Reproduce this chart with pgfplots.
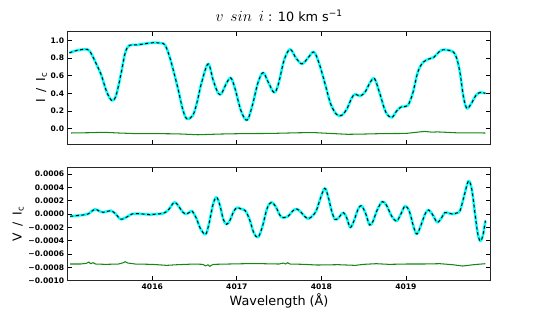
\documentclass[border=0pt]{standalone}
\usepackage{graphicx}
\usepackage{fontspec}
\setmainfont{DejaVu Sans}
\usepackage{pgfplots}
\usepackage{pgfplotstable}
\pgfplotsset{compat=1.18}
\definecolor{mplgreen}{RGB}{20,135,20}
\definecolor{mplcyan}{RGB}{0,255,255}

\pgfplotstableread{
w I
4015.02 0.86
4015.10 0.885
4015.20 0.90
4015.26 0.88
4015.35 0.71
4015.40 0.60
4015.46 0.42
4015.52 0.32
4015.57 0.37
4015.63 0.62
4015.68 0.86
4015.73 0.945
4015.82 0.95
4015.92 0.965
4016.01 0.975
4016.10 0.97
4016.15 0.95
4016.21 0.80
4016.30 0.47
4016.36 0.22
4016.41 0.11
4016.48 0.15
4016.53 0.30
4016.58 0.51
4016.66 0.735
4016.72 0.55
4016.78 0.40
4016.82 0.40
4016.88 0.52
4016.93 0.575
4016.98 0.45
4017.05 0.20
4017.12 0.095
4017.18 0.25
4017.25 0.52
4017.31 0.635
4017.37 0.53
4017.44 0.41
4017.49 0.50
4017.56 0.78
4017.63 0.90
4017.70 0.80
4017.77 0.735
4017.84 0.80
4017.91 0.87
4017.97 0.75
4018.04 0.52
4018.11 0.28
4018.18 0.16
4018.24 0.15
4018.30 0.22
4018.36 0.35
4018.40 0.39
4018.46 0.37
4018.52 0.42
4018.58 0.53
4018.63 0.565
4018.69 0.40
4018.76 0.19
4018.83 0.125
4018.89 0.20
4018.95 0.25
4019.02 0.26
4019.08 0.40
4019.14 0.64
4019.20 0.75
4019.27 0.79
4019.33 0.81
4019.39 0.87
4019.44 0.895
4019.50 0.89
4019.56 0.87
4019.60 0.80
4019.64 0.63
4019.68 0.36
4019.72 0.23
4019.77 0.28
4019.83 0.38
4019.88 0.41
4019.94 0.40
}\Itab

\pgfplotstableread{
w g
4015.04 -0.050
4015.25 -0.047
4015.43 -0.042
4015.60 -0.050
4015.80 -0.057
4016.05 -0.057
4016.30 -0.060
4016.54 -0.070
4016.80 -0.062
4017.08 -0.057
4017.40 -0.055
4017.70 -0.048
4017.90 -0.045
4018.10 -0.055
4018.31 -0.065
4018.50 -0.062
4018.72 -0.057
4019.00 -0.055
4019.22 -0.032
4019.30 -0.040
4019.38 -0.038
4019.60 -0.048
4019.94 -0.050
}\Igtab

\pgfplotstableread{
w V
4015.03 -0.35e-4
4015.10 -0.25e-4
4015.18 -0.15e-4
4015.24 0.0
4015.32 0.70e-4
4015.37 0.45e-4
4015.42 0.25e-4
4015.47 0.40e-4
4015.51 0.50e-4
4015.56 0.10e-4
4015.62 -0.75e-4
4015.66 -0.70e-4
4015.70 -0.45e-4
4015.76 0.0
4015.84 0.05e-4
4015.92 -0.05e-4
4015.98 -0.10e-4
4016.05 0.0
4016.13 0.10e-4
4016.19 0.6e-4
4016.26 1.75e-4
4016.31 1.2e-4
4016.36 0.3e-4
4016.40 0.0
4016.44 0.25e-4
4016.47 0.45e-4
4016.52 -0.6e-4
4016.57 -2.2e-4
4016.63 -3.05e-4
4016.67 -1.5e-4
4016.72 1.5e-4
4016.76 2.5e-4
4016.80 1.3e-4
4016.84 -0.8e-4
4016.88 -1.55e-4
4016.92 -0.9e-4
4016.96 0.3e-4
4017.00 0.95e-4
4017.05 0.75e-4
4017.10 0.50e-4
4017.15 -0.8e-4
4017.20 -2.8e-4
4017.25 -3.5e-4
4017.30 -2.0e-4
4017.36 0.9e-4
4017.41 1.75e-4
4017.46 1.1e-4
4017.51 -0.2e-4
4017.55 -0.55e-4
4017.61 -0.3e-4
4017.66 0.45e-4
4017.71 0.75e-4
4017.76 0.25e-4
4017.81 -0.45e-4
4017.85 -0.7e-4
4017.90 -0.2e-4
4017.94 0.5e-4
4017.99 2.4e-4
4018.04 3.85e-4
4018.08 2.6e-4
4018.12 0.5e-4
4018.16 -0.8e-4
4018.20 -0.6e-4
4018.26 0.2e-4
4018.30 -0.6e-4
4018.34 -2.0e-4
4018.38 -1.2e-4
4018.43 0.6e-4
4018.47 1.25e-4
4018.52 0.2e-4
4018.57 -1.65e-4
4018.61 -1.1e-4
4018.66 0.6e-4
4018.72 1.85e-4
4018.77 1.3e-4
4018.83 -0.3e-4
4018.89 -1.05e-4
4018.94 0.0
4018.99 1.2e-4
4019.04 0.4e-4
4019.09 -1.9e-4
4019.13 -3.0e-4
4019.18 -1.6e-4
4019.23 0.1e-4
4019.27 0.6e-4
4019.32 -0.2e-4
4019.37 -1.25e-4
4019.42 -0.6e-4
4019.46 0.2e-4
4019.51 0.1e-4
4019.55 0.0
4019.60 0.15e-4
4019.64 0.5e-4
4019.69 2.8e-4
4019.74 4.95e-4
4019.78 3.6e-4
4019.82 -0.3e-4
4019.85 -3.0e-4
4019.88 -4.05e-4
4019.91 -3.2e-4
4019.94 -1.0e-4
}\Vtab

\pgfplotstableread{
w g
4015.03 -7.50e-4
4015.15 -7.50e-4
4015.22 -7.40e-4
4015.25 -7.20e-4
4015.27 -7.45e-4
4015.30 -7.30e-4
4015.33 -7.50e-4
4015.45 -7.55e-4
4015.60 -7.50e-4
4015.66 -7.30e-4
4015.68 -7.15e-4
4015.71 -7.35e-4
4015.80 -7.50e-4
4016.00 -7.55e-4
4016.17 -7.70e-4
4016.30 -7.60e-4
4016.50 -7.50e-4
4016.60 -7.55e-4
4016.63 -7.80e-4
4016.66 -7.60e-4
4016.68 -7.85e-4
4016.72 -7.55e-4
4016.90 -7.50e-4
4017.10 -7.45e-4
4017.30 -7.45e-4
4017.50 -7.50e-4
4017.55 -7.35e-4
4017.58 -7.50e-4
4017.60 -7.30e-4
4017.63 -7.50e-4
4017.80 -7.55e-4
4017.95 -7.65e-4
4018.20 -7.60e-4
4018.40 -7.70e-4
4018.50 -7.55e-4
4018.65 -7.45e-4
4018.80 -7.55e-4
4019.00 -7.50e-4
4019.20 -7.50e-4
4019.40 -7.45e-4
4019.55 -7.60e-4
4019.67 -7.80e-4
4019.80 -7.60e-4
4019.94 -7.45e-4
}\Vgtab

\pgfplotsset{
  panel/.style={
    scale only axis,
    width=422.8pt,
    xmin=4015, xmax=4020,
    xtick={4016,4017,4018,4019},
    axis line style={black!85, line width=0.9pt},
    tick style={black, line width=0.8pt},
    major tick length=4.3pt,
    tick align=inside,
    ticklabel style={font=\fontsize{7.6}{8}\selectfont\bfseries},
    every axis y label/.style={at={(axis description cs:0,0.5)}, rotate=90, anchor=base, font=\fontsize{12.3}{14}\selectfont},
    every axis x label/.style={at={(axis description cs:0.5,0)}, anchor=base, yshift=-25pt, font=\fontsize{12.8}{14}\selectfont},
    scaled ticks=false,
  },
  cyanline/.style={mplcyan, line width=2.6pt, smooth, tension=0.55, line join=round},
  dashline/.style={black, line width=0.95pt, dash pattern=on 3pt off 2.6pt, smooth, tension=0.55},
  greenline/.style={mplgreen, line width=1.05pt, line join=round},
}

\begin{document}
\begin{tikzpicture}
\path[use as bounding box] (0,0) rectangle (545pt,-312pt);

\begin{axis}[panel,
  at={(67.7pt,-31.7pt)}, anchor=north west,
  height=112.3pt,
  ymin=-0.175, ymax=1.1,
  ytick={0,0.2,0.4,0.6,0.8,1.0},
  yticklabels={0.0,0.2,0.4,0.6,0.8,1.0},
  xticklabels={},
  ylabel={I\hspace{0.55em}/\hspace{0.55em}I$_{\mathrm{c}}$},
  ylabel style={at={(axis description cs:-0.0535,0.5)}},
  title={\scalebox{1.3}{$v\;\, sin\;\, i$} : 10 km s\textsuperscript{−1}},
  title style={at={(axis description cs:0.5,1)}, anchor=base, yshift=4.5pt, font=\fontsize{12.8}{14}\selectfont},
]
\addplot[greenline] table[x=w,y=g] {\Igtab};
\addplot[cyanline] table[x=w,y=I] {\Itab};
\addplot[dashline] table[x=w,y=I] {\Itab};
\end{axis}

\begin{axis}[panel,
  at={(67.7pt,-167.3pt)}, anchor=north west,
  height=113.4pt,
  ymin=-0.001, ymax=0.0007,
  ytick={-0.001,-0.0008,-0.0006,-0.0004,-0.0002,0,0.0002,0.0004,0.0006},
  yticklabels={−0.0010,−0.0008,−0.0006,−0.0004,−0.0002,0.0000,0.0002,0.0004,0.0006},
  xticklabels={4016,4017,4018,4019},
  xlabel={Wavelength (Å)},
  ylabel={V\hspace{0.55em}/\hspace{0.55em}I$_{\mathrm{c}}$},
  ylabel style={at={(axis description cs:-0.1088,0.5)}},
]
\addplot[greenline] table[x=w,y=g] {\Vgtab};
\addplot[cyanline] table[x=w,y=V] {\Vtab};
\addplot[dashline] table[x=w,y=V] {\Vtab};
\end{axis}
\end{tikzpicture}
\end{document}
